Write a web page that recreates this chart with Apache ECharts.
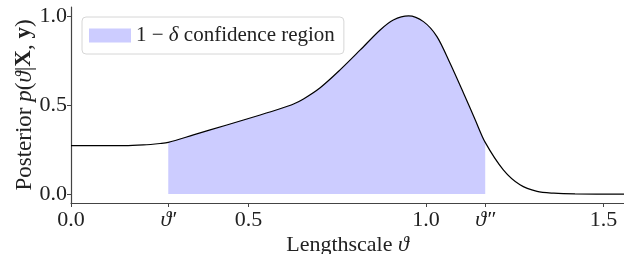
<!DOCTYPE html>
<html>
<head>
<meta charset="utf-8">
<script src="https://cdn.jsdelivr.net/npm/echarts@6/dist/echarts.min.js"></script>
<style>html,body{margin:0;padding:0;background:#fff}#c{width:624px;height:254px}</style>
</head>
<body>
<div id="c"></div>
<script>
// Data
const thetaX = [0, 0.10, 0.15, 0.204, 0.251, 0.274, 0.345, 0.439, 0.533, 0.589, 0.627, 0.655, 0.702, 0.758, 0.815, 0.871, 0.908, 0.951, 0.993, 1.031, 1.068, 1.106, 1.139, 1.167, 1.218, 1.265, 1.313, 1.36, 1.42, 1.558];
const posterior = [0.272, 0.272, 0.272, 0.276, 0.284, 0.290, 0.332, 0.388, 0.444, 0.479, 0.506, 0.534, 0.597, 0.697, 0.809, 0.921, 0.977, 1.000, 0.968, 0.884, 0.734, 0.566, 0.416, 0.290, 0.136, 0.052, 0.015, 0.005, 0.001, 0.0];
const thetaLow = 0.274;   // ϑ'
const thetaHigh = 1.167;  // ϑ''
const xTickValues = [0, thetaLow, 0.5, 1.0, thetaHigh, 1.5];
const xTickLabels = ['0.0', "{i|ϑ′}", '0.5', '1.0', "{i|ϑ″}", '1.5'];
const yTickValues = [0, 0.5, 1.0];
const yTickLabels = ['0.0', '0.5', '1.0'];
const legendName = '1 − δ confidence region';

const curve = thetaX.map((x, i) => [x, posterior[i]]);
const region = curve.filter(p => p[0] >= thetaLow && p[0] <= thetaHigh);

const FONT = '"Liberation Serif", "DejaVu Serif", serif';
const FS = 22;
const chart = echarts.init(document.getElementById('c'), null, {renderer: 'canvas'});
chart.setOption({
  animation: false,
  grid: {left: 71, right: 0, top: 7, bottom: 51, containLabel: false, outerBoundsMode: 'none'},
  legend: {
    left: 82, top: 17,
    data: [{name: legendName, icon: 'rect'}],
    itemWidth: 42, itemHeight: 14, itemGap: 10,
    padding: [8, 9, 8, 7],
    backgroundColor: '#fff',
    borderColor: '#d6d6d6', borderWidth: 1, borderRadius: 4,
    textStyle: {
      fontFamily: FONT, fontSize: 21, color: '#222',
      rich: {i: {fontFamily: FONT, fontStyle: 'italic', fontSize: 21}}
    },
    formatter: () => '1 − {i|δ} confidence region'
  },
  xAxis: {
    type: 'value', min: 0, max: 1.558,
    name: 'Lengthscale {i|ϑ}', nameLocation: 'middle', nameGap: 31, nameMoveOverlap: false,
    nameTextStyle: {fontFamily: FONT, fontSize: FS, color: '#222',
      rich: {i: {fontFamily: FONT, fontStyle: 'italic', fontSize: FS}}},
    axisLine: {onZero: false, lineStyle: {color: '#444', width: 1.2}},
    axisTick: {show: true, length: 4, lineStyle: {color: '#444'}, customValues: xTickValues},
    axisLabel: {
      customValues: xTickValues, margin: 6,
      fontFamily: FONT, fontSize: FS, color: '#222',
      rich: {i: {fontFamily: FONT, fontStyle: 'italic', fontSize: FS}},
      formatter: v => {
        const k = xTickValues.findIndex(t => Math.abs(t - v) < 1e-6);
        return k >= 0 ? xTickLabels[k] : '';
      }
    },
    splitLine: {show: false}
  },
  yAxis: {
    type: 'value', min: -0.05, max: 1.05,
    name: 'Posterior {i|p}({i|ϑ}|{b|X}, {b|y})', nameLocation: 'middle', nameGap: 35, nameRotate: 90, nameMoveOverlap: false,
    nameTextStyle: {fontFamily: FONT, fontSize: 23, color: '#222',
      rich: {i: {fontFamily: FONT, fontStyle: 'italic', fontSize: 23},
             b: {fontFamily: FONT, fontWeight: 'bold', fontSize: 23}}},
    axisLine: {show: true, onZero: false, lineStyle: {color: '#444', width: 1.2}},
    axisTick: {show: true, length: 4, lineStyle: {color: '#444'}, customValues: yTickValues},
    axisLabel: {
      customValues: yTickValues, margin: 4,
      fontFamily: FONT, fontSize: FS, color: '#222',
      formatter: v => {
        const k = yTickValues.findIndex(t => Math.abs(t - v) < 1e-6);
        return k >= 0 ? yTickLabels[k] : '';
      }
    },
    splitLine: {show: false}
  },
  series: [
    {
      name: legendName, type: 'line', data: region, smooth: 0.3,
      showSymbol: false, lineStyle: {width: 0, opacity: 0},
      itemStyle: {color: '#ccccff'},
      areaStyle: {color: '#ccccff', opacity: 1, origin: 0},
      z: 1
    },
    {
      name: 'posterior', type: 'line', data: curve, smooth: 0.3,
      showSymbol: false, lineStyle: {color: '#000', width: 1.2},
      itemStyle: {color: '#000'}, z: 3
    }
  ]
});
</script>
</body>
</html>
